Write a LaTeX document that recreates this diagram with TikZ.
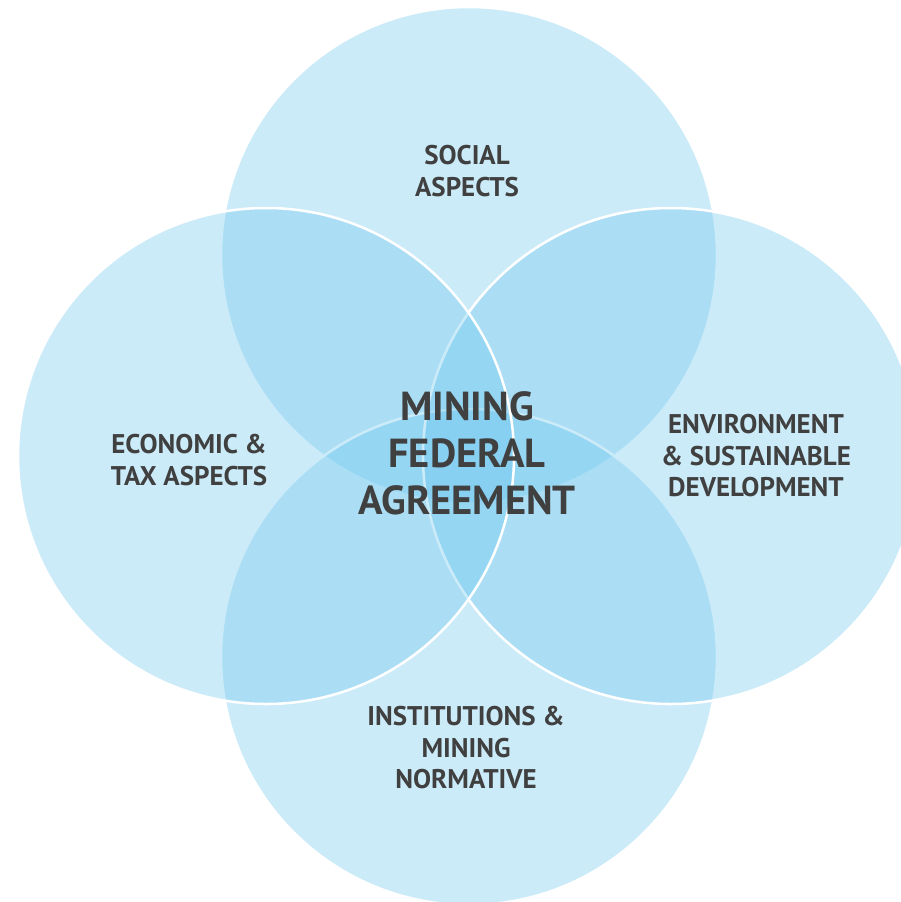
\documentclass[tikz,border=0pt]{standalone}
\usepackage{fontspec}
\setmainfont{PT Sans}
\definecolor{circblue}{RGB}{109,198,238}
\definecolor{txtgray}{RGB}{64,64,64}
\tikzset{
  venn/.style={fill=circblue, fill opacity=0.35, draw=white, draw opacity=1, line width=2.5pt},
  lbl/.style={align=center, text=txtgray, font=\bfseries\fontsize{27}{31.5}\selectfont, inner sep=0pt},
  title/.style={align=center, text=txtgray, font=\bfseries\fontsize{40.5}{47}\selectfont, inner sep=0pt}
}
\begin{document}
\begin{tikzpicture}[x=1pt,y=-1pt]
\useasboundingbox (0,0) rectangle (900,902);
\path[venn] (469,255) circle[radius=248];
\path[venn] (469,657) circle[radius=248];
\path[venn] (671,456) circle[radius=248];
\path[venn] (266,456) circle[radius=248];
\node[lbl] (social) at (467,171) {SOCIAL\\ASPECTS};
\node[lbl] (econ) at (189,460) {ECONOMIC \&\\TAX ASPECTS};
\node[lbl] (env) at (756,456) {ENVIRONMENT\\\& SUSTAINABLE\\DEVELOPMENT};
\node[lbl] (inst) at (466,748) {INSTITUTIONS \&\\MINING\\NORMATIVE};
\node[title] (main) at (467,453) {MINING\\FEDERAL\\AGREEMENT};
\end{tikzpicture}
\end{document}
